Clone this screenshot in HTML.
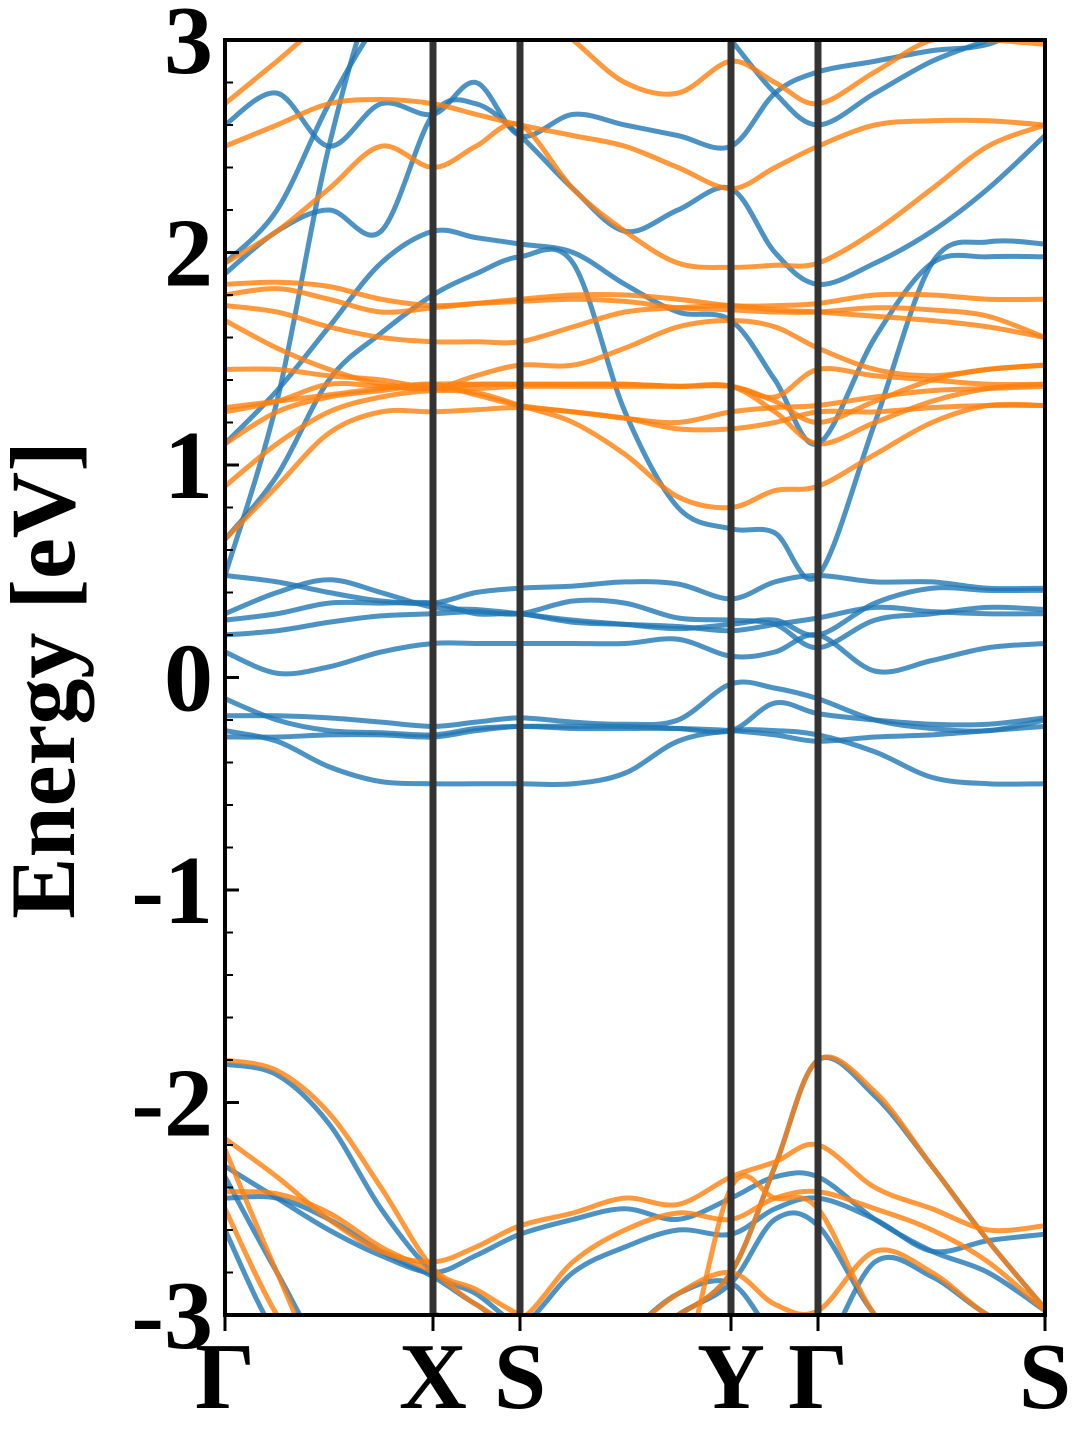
<!DOCTYPE html>
<html><head><meta charset="utf-8"><style>
body{margin:0;background:#fff;width:1080px;height:1440px;overflow:hidden}
svg text{font-family:"Liberation Serif",serif;font-weight:bold;fill:#000}
</style></head><body>
<svg id="chart" width="1080" height="1440" viewBox="0 0 1080 1440" xmlns="http://www.w3.org/2000/svg">
<defs><clipPath id="pc"><rect x="225" y="40" width="820" height="1275"/></clipPath></defs>
<g id="bands" clip-path="url(#pc)"></g>
<g id="vlines"></g>
<g id="axes"></g>
</svg>
<script>
// k-point path positions
const kGrid=[0,52,104,156,208,251,295,348,400,453,506,550,593,650,707,763,820];
const kLabels=["Γ","X","S","Y","Γ","S"];
const kLabelIdx=[0,4,6,10,12,16];
const yTicks=[-3,-2,-1,0,1,2,3];
const spinUp=[
[-0.25,-0.3,-0.42,-0.49,-0.5,-0.5,-0.5,-0.5,-0.45,-0.3,-0.25,-0.25,-0.27,-0.35,-0.47,-0.5,-0.5],
[-0.28,-0.28,-0.27,-0.27,-0.28,-0.25,-0.23,-0.24,-0.24,-0.24,-0.25,-0.27,-0.3,-0.28,-0.27,-0.25,-0.23],
[-0.18,-0.18,-0.19,-0.21,-0.23,-0.21,-0.19,-0.21,-0.22,-0.2,-0.03,-0.05,-0.1,-0.2,-0.24,-0.25,-0.2],
[-0.1,-0.2,-0.25,-0.26,-0.27,-0.24,-0.23,-0.23,-0.23,-0.24,-0.25,-0.12,-0.17,-0.2,-0.22,-0.22,-0.19],
[0.12,0.02,0.05,0.12,0.16,0.16,0.16,0.16,0.16,0.18,0.1,0.12,0.2,0.03,0.08,0.14,0.16],
[0.2,0.22,0.26,0.29,0.3,0.31,0.3,0.36,0.35,0.28,0.27,0.25,0.14,0.27,0.3,0.33,0.32],
[0.27,0.3,0.35,0.35,0.35,0.3,0.3,0.26,0.25,0.24,0.22,0.25,0.28,0.33,0.31,0.3,0.3],
[0.48,0.45,0.4,0.36,0.35,0.4,0.42,0.43,0.45,0.44,0.37,0.45,0.48,0.45,0.45,0.42,0.42],
[0.3,0.4,0.46,0.4,0.33,0.32,0.3,0.27,0.25,0.23,0.25,0.27,0.2,0.35,0.42,0.41,0.41],
[0.48,1.3,2.5,3.3,3.5,3.5,3.5,3.5,3.5,3.5,3.5,3.5,3.5,3.5,3.5,3.5,3.5],
[0.65,0.95,1.4,1.62,1.8,1.9,1.98,1.95,1.25,0.8,0.7,0.68,0.48,1.2,1.95,2.05,2.04],
[1.1,1.35,1.65,1.95,2.1,2.07,2.04,2.0,1.85,1.72,1.68,1.4,1.1,1.6,1.95,1.98,1.98],
[1.9,2.1,2.2,2.1,2.65,2.7,2.55,2.3,2.1,2.2,2.3,2.0,1.85,1.95,2.1,2.3,2.55],
[1.95,2.2,2.7,3.1,3.3,3.3,3.3,3.3,3.3,3.3,3.0,2.75,2.6,2.75,2.9,3.0,3.1],
[2.6,2.75,2.5,2.7,2.65,2.8,2.55,2.65,2.6,2.55,2.5,2.75,2.85,2.9,2.95,2.98,3.1],
[-1.82,-1.87,-2.1,-2.5,-2.8,-2.9,-3.05,-3.1,-3.1,-3.0,-2.8,-2.3,-1.8,-1.97,-2.3,-2.65,-2.97],
[-2.3,-2.45,-2.6,-2.72,-2.8,-2.72,-2.62,-2.55,-2.5,-2.55,-2.45,-2.35,-2.35,-2.55,-2.7,-2.8,-2.98],
[-2.45,-2.45,-2.55,-2.7,-2.82,-2.95,-3.05,-2.8,-2.68,-2.6,-2.62,-2.5,-2.45,-2.55,-2.7,-2.65,-2.62],
[-2.35,-2.8,-3.2,-3.2,-3.2,-3.2,-3.2,-3.2,-3.2,-3.0,-2.85,-2.55,-2.58,-3.0,-3.2,-3.2,-3.2],
[-2.6,-3.1,-3.3,-3.3,-3.0,-3.2,-3.3,-3.3,-3.1,-2.9,-2.85,-3.1,-3.2,-2.75,-2.82,-3.0,-3.1]
];
const spinDown=[
[0.65,0.9,1.15,1.25,1.25,1.26,1.27,1.25,1.22,1.17,1.17,1.2,1.25,1.25,1.27,1.28,1.28],
[0.9,1.1,1.25,1.32,1.35,1.34,1.28,1.2,1.05,0.85,0.8,0.88,0.9,1.05,1.2,1.28,1.28],
[1.1,1.25,1.32,1.35,1.38,1.38,1.38,1.38,1.38,1.37,1.37,1.25,1.1,1.2,1.3,1.36,1.38],
[1.25,1.3,1.38,1.37,1.36,1.42,1.47,1.47,1.55,1.65,1.68,1.65,1.55,1.45,1.42,1.45,1.47],
[1.27,1.3,1.33,1.36,1.38,1.33,1.28,1.25,1.22,1.2,1.25,1.27,1.28,1.32,1.35,1.36,1.37],
[1.45,1.45,1.42,1.4,1.36,1.36,1.37,1.37,1.37,1.37,1.37,1.32,1.45,1.42,1.4,1.38,1.38],
[1.68,1.55,1.45,1.38,1.36,1.38,1.38,1.38,1.38,1.37,1.37,1.3,1.2,1.3,1.4,1.45,1.47],
[1.75,1.72,1.65,1.6,1.58,1.58,1.58,1.65,1.72,1.74,1.75,1.73,1.72,1.7,1.68,1.65,1.6],
[1.8,1.83,1.78,1.72,1.74,1.76,1.78,1.8,1.8,1.78,1.75,1.75,1.76,1.8,1.8,1.78,1.78],
[1.85,1.86,1.84,1.78,1.75,1.76,1.77,1.78,1.77,1.74,1.73,1.72,1.72,1.74,1.73,1.7,1.6],
[1.95,2.1,2.3,2.5,2.4,2.5,2.6,2.3,2.1,1.95,1.93,1.94,1.95,2.1,2.3,2.5,2.6],
[2.5,2.6,2.7,2.72,2.7,2.65,2.6,2.55,2.5,2.4,2.3,2.4,2.5,2.6,2.62,2.62,2.6],
[2.7,2.9,3.1,3.2,3.2,3.2,3.2,3.0,2.8,2.75,2.9,2.8,2.7,2.85,3.0,3.0,2.98],
[-1.8,-1.85,-2.05,-2.4,-2.78,-2.88,-3.0,-3.1,-3.1,-3.0,-2.8,-2.3,-1.8,-1.95,-2.3,-2.65,-2.97],
[-2.17,-2.35,-2.55,-2.7,-2.75,-2.68,-2.58,-2.52,-2.45,-2.48,-2.35,-2.28,-2.2,-2.4,-2.5,-2.6,-2.58],
[-2.42,-2.43,-2.52,-2.68,-2.8,-2.95,-3.02,-2.75,-2.6,-2.52,-2.55,-2.45,-2.42,-2.5,-2.6,-2.75,-2.98],
[-2.5,-3.0,-3.3,-3.3,-3.0,-3.2,-3.3,-3.3,-3.1,-2.9,-2.8,-2.95,-2.98,-2.7,-2.8,-3.0,-3.1],
[-2.22,-2.8,-3.3,-3.3,-3.3,-3.3,-3.3,-3.3,-3.3,-3.3,-2.4,-2.45,-2.5,-3.0,-3.2,-3.3,-3.3]
];
const X0=225,X1=1045,Y0=40,Y1=1315,EMIN=-3,EMAX=3;
function xScale(k){return X0+k*(X1-X0)/820;}
function yScale(e){return Y1-(e-EMIN)*(Y1-Y0)/(EMAX-EMIN);}
const NS="http://www.w3.org/2000/svg";
function mk(t,a){const e=document.createElementNS(NS,t);for(const k in a)e.setAttribute(k,a[k]);return e;}
function pathFor(vals){
  const p=vals.map((v,i)=>[xScale(kGrid[i]),yScale(v)]);
  let d="M"+p[0][0]+","+p[0][1];
  for(let i=0;i<p.length-1;i++){
    const a=p[Math.max(0,i-1)],b=p[i],c=p[i+1],e=p[Math.min(p.length-1,i+2)];
    const c1x=b[0]+(c[0]-a[0])/6,c1y=b[1]+(c[1]-a[1])/6;
    const c2x=c[0]-(e[0]-b[0])/6,c2y=c[1]-(e[1]-b[1])/6;
    d+=" C"+c1x+","+c1y+" "+c2x+","+c2y+" "+c[0]+","+c[1];
  }
  return d;
}
const gb=document.getElementById('bands');
spinUp.forEach((b,i)=>{const el=mk('path',{d:pathFor(b),fill:'none',stroke:'#1f77b4','stroke-width':5,'stroke-opacity':0.8});


gb.appendChild(el);});
spinDown.forEach((b,i)=>{const el=mk('path',{d:pathFor(b),fill:'none',stroke:'#ff7f0e','stroke-width':5,'stroke-opacity':0.8});


gb.appendChild(el);});
const gv=document.getElementById('vlines');
kLabelIdx.slice(1,-1).forEach(i=>{const x=xScale(kGrid[i]);const el=mk('line',{x1:x,x2:x,y1:Y0,y2:Y1,stroke:'#333','stroke-width':7});


gv.appendChild(el);});
const ga=document.getElementById('axes');
const fr=mk('rect',{x:X0,y:Y0,width:X1-X0,height:Y1-Y0,fill:'none',stroke:'#000','stroke-width':4});


ga.appendChild(fr);
for(let e=-3;e<=3.001;e+=0.2){const y=yScale(e);ga.appendChild(mk('line',{x1:X0,x2:X0+8,y1:y,y2:y,stroke:'#000','stroke-width':2}));}
yTicks.forEach(v=>{const y=yScale(v);ga.appendChild(mk('line',{x1:X0,x2:X0+14,y1:y,y2:y,stroke:'#000','stroke-width':3}));
const t=mk('text',{x:X0-12,y:y+33,'text-anchor':'end','font-size':98});t.textContent=String(v);


ga.appendChild(t);});
kLabelIdx.forEach((idx,j)=>{const x=xScale(kGrid[idx]);ga.appendChild(mk('line',{x1:x,x2:x,y1:Y1,y2:Y1+16,stroke:'#000','stroke-width':3}));
const t=mk('text',{x:x,y:1408,'text-anchor':'middle','font-size':94});t.textContent=kLabels[j];


ga.appendChild(t);});
const yl=mk('text',{x:0,y:0,'text-anchor':'middle','font-size':92,transform:'translate(74,680) rotate(-90)'});yl.textContent='Energy [eV]';


ga.appendChild(yl);
</script>
</body></html>
